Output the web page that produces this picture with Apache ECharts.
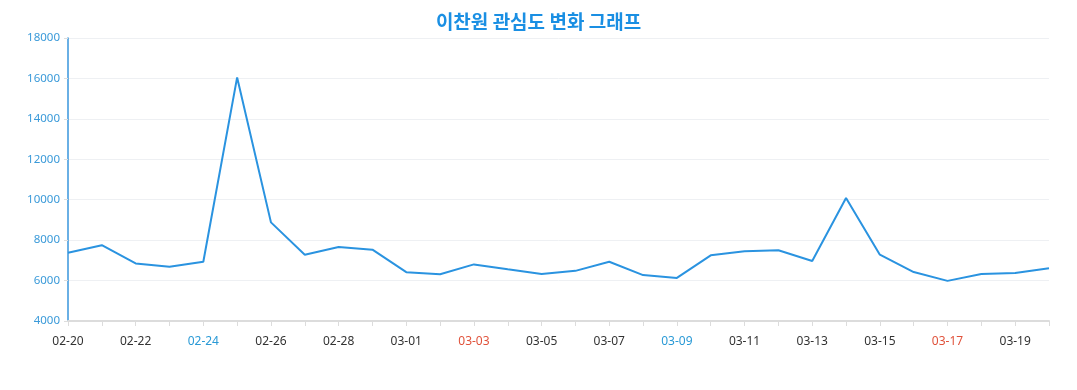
<!DOCTYPE html>
<html><head><meta charset="utf-8">
<script src="https://cdn.jsdelivr.net/npm/echarts@6/dist/echarts.min.js"></script>
<style>html,body{margin:0;padding:0;background:#fff}#c{width:1077px;height:390px}</style>
</head><body><div id="c"></div>
<script>
const categories = ['02-20','02-21','02-22','02-23','02-24','02-25','02-26','02-27','02-28','02-29',
  '03-01','03-02','03-03','03-04','03-05','03-06','03-07','03-08','03-09','03-10',
  '03-11','03-12','03-13','03-14','03-15','03-16','03-17','03-18','03-19','03-20'];
const values = [7380,7750,6850,6680,6930,16050,8880,7280,7665,7530,
  6415,6315,6800,6560,6330,6480,6930,6270,6130,7250,
  7450,7500,6970,10080,7280,6420,5985,6320,6370,6610];
const saturdays = ['02-24','03-02','03-09','03-16'];
const sundays = ['02-25','03-03','03-10','03-17'];
const yTicks = [4000,6000,8000,10000,12000,14000,16000,18000];

const chart = echarts.init(document.getElementById('c'));
chart.setOption({
  animation:false,
  title:{text:'이찬원 관심도 변화 그래프',left:'center',top:7,
    textStyle:{color:'#1a8fe3',fontSize:19,fontWeight:'bold',fontFamily:'Noto Sans CJK KR'}},
  grid:{left:68,right:28,top:38,bottom:69},
  xAxis:{type:'category',data:categories,boundaryGap:false,
    axisLine:{lineStyle:{color:'#dcdcdc',width:2}},
    axisTick:{show:true,interval:0,lineStyle:{color:'#dcdcdc'}},
    axisLabel:{interval:1,margin:15,fontSize:12,fontFamily:'Noto Sans',
      formatter:function(v){
        if(saturdays.indexOf(v)>=0) return '{sat|'+v+'}';
        if(sundays.indexOf(v)>=0) return '{sun|'+v+'}';
        return '{n|'+v+'}';
      },
      rich:{n:{color:'#333',fontSize:12,fontFamily:'Noto Sans'},
        sat:{color:'#2a9ad6',fontSize:12,fontFamily:'Noto Sans'},
        sun:{color:'#e0523b',fontSize:12,fontFamily:'Noto Sans'}}},
    splitLine:{show:false}},
  yAxis:{type:'value',min:yTicks[0],max:yTicks[yTicks.length-1],interval:2000,
    axisLine:{show:true,lineStyle:{color:'#3896dd',width:1.5}},
    axisTick:{show:true,length:4,lineStyle:{color:'#ddd'}},
    axisLabel:{color:'#3a9ad9',fontSize:11.5,fontFamily:'Noto Sans',margin:8,
      formatter:function(v){return String(v);}},
    splitLine:{lineStyle:{color:'#eef0f3'}}},
  series:[{type:'line',data:values,showSymbol:false,smooth:false,
    lineStyle:{color:'#2a93e0',width:2},itemStyle:{color:'#2a93e0'}}]
});
</script></body></html>
